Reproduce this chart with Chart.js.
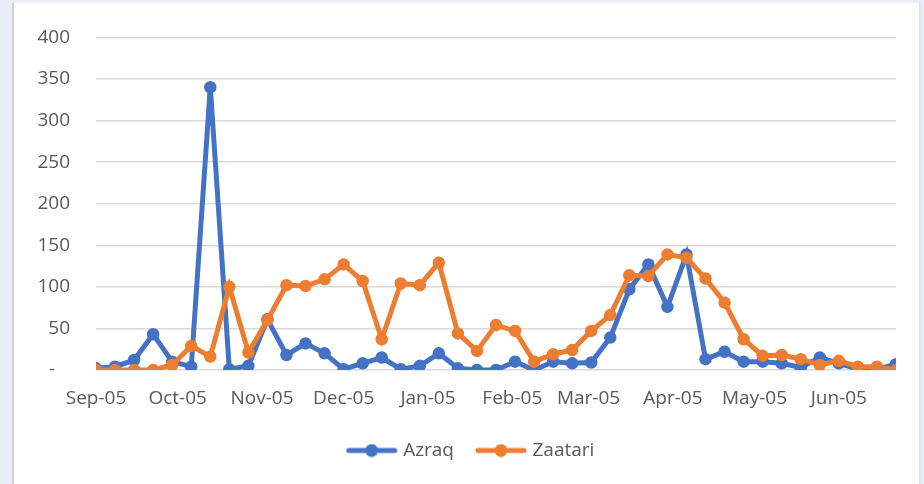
<!DOCTYPE html>
<html>
<head>
<meta charset="utf-8">
<script src="https://cdn.jsdelivr.net/npm/chart.js@4"></script>
<style>
  html, body { margin: 0; padding: 0; }
  body { width: 924px; height: 484px; background: #e8edf6; position: relative; overflow: hidden; }
  .panel { position: absolute; left: 12px; top: 3px; width: 909px; height: 481px; background: #fff;
           border-left: 2px solid #cfd3d9; border-right: 2px solid #e3e3e3; box-sizing: border-box; }
  canvas { position: absolute; left: 0; top: 0; }
</style>
</head>
<body>
<div class="panel"></div>
<canvas id="chart" width="924" height="484"></canvas>
<script>
// weekly observations, one every 7 days from the first week
const weekDays = [0, 7, 14, 21, 28, 35, 42, 49, 56, 63, 70, 77, 84, 91, 98, 105, 112, 119, 126, 133, 140,
  147, 154, 161, 168, 175, 182, 189, 196, 203, 210, 217, 224, 231, 238, 245, 252, 259, 266, 273, 280, 287, 294];

const azraq = [2, 4, 12, 43, 10, 4, 340, 1, 5, 61, 18, 32, 20, 1, 8, 15, 1, 5, 20, 2, 0,
  0, 10, 0, 10, 8, 9, 39, 97, 127, 76, 139, 13, 22, 10, 10, 8, 3, 15, 8, 1, 1, 7];

const zaatari = [0, 0, 0, 0, 6, 29, 16, 100, 21, 60, 102, 101, 109, 127, 107, 37, 104, 102, 129, 44, 23,
  54, 47, 10, 19, 24, 47, 66, 114, 113, 139, 135, 110, 81, 37, 17, 18, 13, 6, 11, 4, 4, 0];

const monthDays = [0, 30, 61, 91, 122, 153, 181, 212, 242, 273];
const monthLabels = ["Sep-05", "Oct-05", "Nov-05", "Dec-05", "Jan-05", "Feb-05", "Mar-05", "Apr-05", "May-05", "Jun-05"];

const BLUE = "#4472c4";
const ORANGE = "#ed7d31";
const FONT = "'Open Sans', sans-serif";
const TEXT = "#595959";

function legendMarker(color) {
  const c = document.createElement("canvas");
  c.width = 52;
  c.height = 14;
  const ctx = c.getContext("2d");
  ctx.strokeStyle = color;
  ctx.lineWidth = 5;
  ctx.lineCap = "round";
  ctx.beginPath();
  ctx.moveTo(3, 7);
  ctx.lineTo(49, 7);
  ctx.stroke();
  ctx.fillStyle = color;
  ctx.beginPath();
  ctx.arc(26, 7, 6.5, 0, Math.PI * 2);
  ctx.fill();
  return c;
}

const markers = [legendMarker(BLUE), legendMarker(ORANGE)];

function series(label, values, color, order) {
  return {
    label,
    data: values.map((v, i) => ({ x: weekDays[i], y: v })),
    borderColor: color,
    backgroundColor: color,
    borderWidth: 5,
    pointStyle: "circle",
    pointRadius: 5.5,
    pointBorderWidth: 1.5,
    pointBackgroundColor: color,
    pointBorderColor: color,
    tension: 0,
    order
  };
}

// legend sits a little right of the canvas centre in the original
const shiftLegend = {
  id: "shiftLegend",
  afterLayout(c) {
    if (!c.legend) return;
    c.legend.left += 17;
    c.legend.right += 17;
  }
};

const chart = new Chart(document.getElementById("chart"), {
  type: "line",
  data: {
    datasets: [series("Azraq", azraq, BLUE, 2), series("Zaatari", zaatari, ORANGE, 1)]
  },
  plugins: [shiftLegend],
  options: {
    responsive: false,
    animation: false,
    layout: { padding: { top: 33, left: 14, right: 28, bottom: 14 } },
    scales: {
      x: {
        type: "linear",
        min: 0,
        max: 294,
        afterBuildTicks: (scale) => { scale.ticks = monthDays.map((v) => ({ value: v })); },
        afterFit: (scale) => { scale.height = 46; },
        grid: { display: false, drawTicks: false },
        border: { display: false },
        ticks: {
          autoSkip: false,
          maxRotation: 0,
          padding: 17,
          color: TEXT,
          font: { family: FONT, size: 19 },
          callback: (value, index) => monthLabels[index]
        }
      },
      y: {
        min: 0,
        max: 400,
        afterFit: (scale) => { scale.width = 82; },
        grid: { color: "#d9d9d9", lineWidth: 1.5, drawTicks: false },
        border: { display: false },
        ticks: {
          stepSize: 50,
          padding: 26,
          color: TEXT,
          font: { family: FONT, size: 19 },
          callback: (value) => (value === 0 ? "-   " : value)
        }
      }
    },
    plugins: {
      tooltip: { enabled: false },
      legend: {
        position: "bottom",
        labels: {
          usePointStyle: true,
          pointStyleWidth: 44,
          padding: 25,
          color: TEXT,
          font: { family: FONT, size: 19 },
          generateLabels: (c) => c.data.datasets.map((ds, i) => ({
            text: ds.label,
            fillStyle: ds.borderColor,
            strokeStyle: ds.borderColor,
            lineWidth: 0,
            pointStyle: markers[i],
            hidden: false,
            datasetIndex: i,
            fontColor: TEXT
          }))
        }
      }
    }
  }
});
</script>
</body>
</html>
